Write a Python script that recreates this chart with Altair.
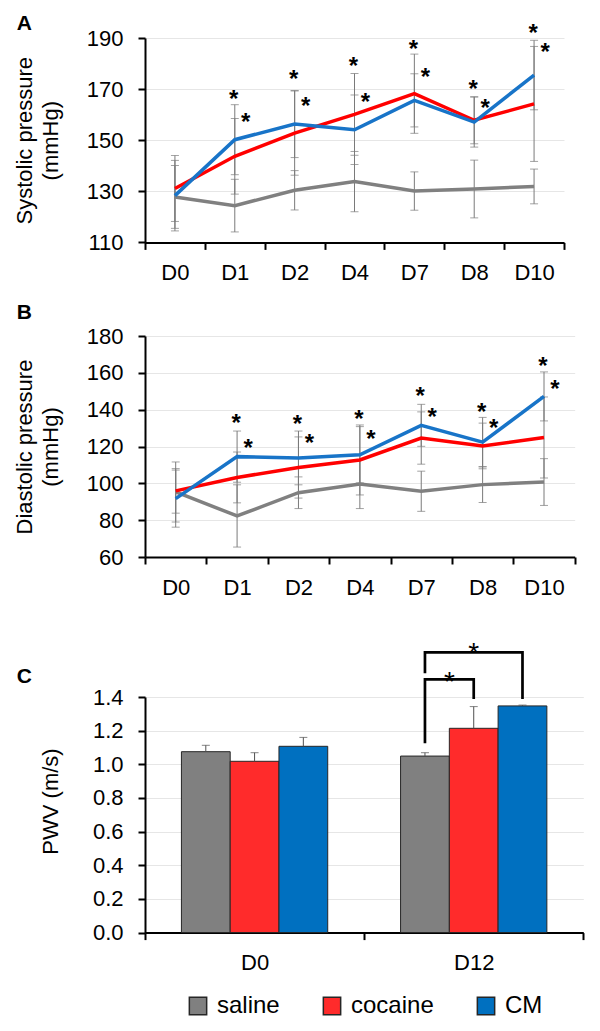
import altair as alt
import pandas as pd

FONT = "Liberation Sans"

# ---------------- data ----------------
days = ["D0", "D1", "D2", "D4", "D7", "D8", "D10"]
groups = ["saline", "cocaine", "CM"]
line_colors = ["#808080", "#FF0000", "#1874C8"]
bar_colors = ["#808080", "#FF2B2B", "#0070C0"]

# Panel A: systolic pressure (mmHg)
sys_saline = [127.8, 124.4, 130.4, 133.8, 130.1, 130.9, 131.9]
sys_cocaine = [131.1, 143.7, 152.8, 160.1, 168.2, 157.8, 164.2]
sys_cm = [128.3, 150.2, 156.3, 154.1, 165.6, 157.1, 175.5]
sys_saline_err = [12.3, 10.3, 7.7, 11.8, 7.5, 11.3, 6.8]
sys_cocaine_err = [12.9, 14.8, 16.5, 16.0, 15.5, 9.2, 22.5]
sys_cm_err = [13.8, 13.7, 13.1, 13.6, 10.4, 9.8, 13.6]

# Panel B: diastolic pressure (mmHg)
dia_saline = [95.3, 82.3, 94.9, 99.6, 95.7, 99.3, 100.7]
dia_cocaine = [95.9, 103.2, 108.6, 112.7, 124.6, 120.3, 124.9]
dia_cm = [91.7, 114.5, 113.8, 115.5, 131.5, 122.4, 147.2]
dia_saline_err = [16.3, 16.9, 8.6, 13.3, 10.9, 9.7, 12.7]
dia_cocaine_err = [12.1, 13.8, 16.6, 19.0, 14.2, 12.4, 22.0]
dia_cm_err = [15.5, 13.9, 14.6, 15.3, 11.4, 13.4, 13.3]

# significance asterisks (upper / lower, in axis units)
star_days = ["D1", "D2", "D4", "D7", "D8", "D10"]
sys_star_hi = [167.9, 175.9, 180.9, 187.8, 172.1, 193.9]
sys_star_lo = [159.0, 165.4, 166.8, 176.6, 164.7, 186.3]
dia_star_hi = [135.5, 134.7, 137.4, 149.9, 141.4, 166.4]
dia_star_lo = [121.9, 124.8, 126.6, 138.8, 133.0, 153.9]

# Panel C: PWV (m/s)
pwv_days = ["D0", "D12"]
pwv_saline = [1.075, 1.049]
pwv_cocaine = [1.018, 1.214]
pwv_cm = [1.107, 1.347]
pwv_saline_err = [0.038, 0.020]
pwv_cocaine_err = [0.051, 0.129]
pwv_cm_err = [0.053, 0.005]

# comparison brackets on D12 (group, y) in axis units
br_inner_groups = ["saline", "saline", "cocaine", "cocaine"]
br_inner_y = [1.125, 1.505, 1.505, 1.388]
br_outer_groups = ["saline", "saline", "CM", "CM"]
br_outer_y = [1.541, 1.665, 1.665, 1.388]
star_inner_y = 1.531
star_outer_y = 1.705

# ---------------- helpers ----------------
ERR = "#7A7A7A"


def long_df(vals, errs):
    rows = []
    for g, v, e in zip(groups, vals, errs):
        for d, vv, ee in zip(days, v, e):
            rows.append(dict(day=d, group=g, value=vv, lo=vv - ee, hi=vv + ee))
    return pd.DataFrame(rows)


def x_axis():
    return alt.Axis(title=None, labelFontSize=22, labelColor="black", labelAngle=0,
                    labelPadding=13, tickSize=7, tickWidth=2, tickColor="black",
                    domainColor="black", domainWidth=2, tickBand="extent", grid=False,
                    labelFont=FONT)


def y_axis(values, title, title_x, title_y=None, fmt=None):
    kw = dict(values=values, title=title, titleFontSize=22, titleFontWeight="normal",
              titleColor="black", titleX=title_x, titleLineHeight=26, titleFont=FONT,
              labelFontSize=22, labelColor="black", labelPadding=15, labelFont=FONT,
              labelOverlap=False,
              tickSize=7, tickWidth=2, tickColor="black", domainColor="black",
              domainWidth=2, grid=True, gridColor="#E6E6E6", gridWidth=1)
    if title_y is not None:
        kw["titleY"] = title_y
    if fmt is not None:
        kw["format"] = fmt
    return alt.Axis(**kw)


def letter_layer(letter, y):
    return alt.Chart(pd.DataFrame({"t": [letter]})).mark_text(
        fontSize=21, fontWeight="bold", align="left", baseline="alphabetic",
        color="black", font=FONT
    ).encode(text="t:N", x=alt.value(-128.3), y=alt.value(y))


def marker_layer(y):
    return alt.Chart(pd.DataFrame({"t": ["."]})).mark_text(
        fontSize=10, align="left", baseline="top", opacity=0
    ).encode(text="t:N", x=alt.value(-131.3), y=alt.value(y))


def line_panel(vals, errs, s_hi, s_lo, dom, ticks, title, letter, w, h, letter_y, top_y):
    df = long_df(vals, errs)
    xax = x_axis()
    yax = y_axis(ticks, title, -108.3)
    xscale = alt.Scale(type="band", paddingInner=0, paddingOuter=0)
    yscale = alt.Scale(domain=dom, nice=False, zero=False)

    def X():
        return alt.X("day:N", sort=days, scale=xscale, axis=xax, bandPosition=0.5)

    def Y(field):
        return alt.Y(field, type="quantitative", scale=yscale, axis=yax)

    base = alt.Chart(df)
    err = base.mark_rule(color=ERR, strokeWidth=1).encode(x=X(), y=Y("lo"), y2="hi:Q")
    caps = base.transform_fold(["lo", "hi"], as_=["k", "cap"]).mark_tick(
        color=ERR, size=8, thickness=1).encode(
        x=alt.X("day:N", sort=days, scale=xscale, axis=xax), y=Y("cap"))
    lines = [
        base.transform_filter(alt.datum.group == g).mark_line(
            color=c, strokeWidth=3.5).encode(x=X(), y=Y("value"))
        for g, c in zip(groups, line_colors)
    ]
    sdf = pd.DataFrame({"day": star_days, "hi": s_hi, "lo": s_lo})
    star_hi = alt.Chart(sdf).mark_text(text="*", fontSize=24, fontWeight="bold",
                                       baseline="alphabetic", dy=13, dx=-1,
                                       color="black", font=FONT).encode(x=X(), y=Y("hi"))
    star_lo = alt.Chart(sdf).mark_text(text="*", fontSize=24, fontWeight="bold",
                                       baseline="alphabetic", dy=13, dx=11,
                                       color="black", font=FONT).encode(x=X(), y=Y("lo"))
    return alt.layer(err, caps, *lines, star_hi, star_lo,
                     letter_layer(letter, letter_y), marker_layer(top_y)).properties(
        width=w, height=h)


chart_a = line_panel([sys_saline, sys_cocaine, sys_cm],
                     [sys_saline_err, sys_cocaine_err, sys_cm_err],
                     sys_star_hi, sys_star_lo, [110, 190], [110, 130, 150, 170, 190],
                     ["Systolic pressure", "(mmHg)"], "A", 419, 204.4, -7.8, -24.5)

chart_b = line_panel([dia_saline, dia_cocaine, dia_cm],
                     [dia_saline_err, dia_cocaine_err, dia_cm_err],
                     dia_star_hi, dia_star_lo, [60, 180], [60, 80, 100, 120, 140, 160, 180],
                     ["Diastolic pressure", "(mmHg)"], "B", 429.7, 221, -17.3, -33.6)

# ---------------- panel C ----------------
rows = []
for g, v, e in zip(groups, [pwv_saline, pwv_cocaine, pwv_cm],
                   [pwv_saline_err, pwv_cocaine_err, pwv_cm_err]):
    for d, vv, ee in zip(pwv_days, v, e):
        rows.append(dict(day=d, group=g, value=vv, hi=vv + ee))
pdf = pd.DataFrame(rows)

xax_c = x_axis()
yax_c = y_axis([0, 0.2, 0.4, 0.6, 0.8, 1.0, 1.2, 1.4], "PWV (m/s)", -83, 104, ".1f")
xscale_c = alt.Scale(type="band", paddingInner=0, paddingOuter=0)
yscale_c = alt.Scale(domain=[0, 1.4], nice=False, zero=True)


def XC():
    return alt.X("day:N", sort=pwv_days, scale=xscale_c, axis=xax_c)


def YC(field):
    return alt.Y(field, type="quantitative", scale=yscale_c, axis=yax_c)


xo = alt.XOffset("group:N", sort=groups,
                 scale=alt.Scale(domain=groups, paddingInner=0, paddingOuter=0.747))

bars = alt.Chart(pdf).mark_bar(stroke="#262626", strokeWidth=1).encode(
    x=XC(), xOffset=xo, y=YC("value"),
    color=alt.Color("group:N", sort=groups,
                    scale=alt.Scale(domain=groups, range=bar_colors),
                    legend=alt.Legend(orient="none", legendX=41, legendY=297,
                                      direction="horizontal", title=None,
                                      labelFontSize=24, labelFont=FONT, labelColor="black",
                                      symbolType="square", symbolSize=300,
                                      symbolStrokeColor="#262626", symbolStrokeWidth=1.5,
                                      symbolOpacity=1, columnPadding=40, labelOffset=7,
                                      padding=0)),
)
err_c = alt.Chart(pdf).mark_rule(color="#505050", strokeWidth=1).encode(
    x=XC(), xOffset=xo, y=YC("value"), y2="hi:Q")
cap_c = alt.Chart(pdf).mark_tick(color="#505050", size=8, thickness=1).encode(
    x=XC(), xOffset=xo, y=YC("hi"))

bdf = pd.DataFrame({
    "day": ["D12"] * 8,
    "group": br_inner_groups + br_outer_groups,
    "y": br_inner_y + br_outer_y,
    "b": ["inner"] * 4 + ["outer"] * 4,
    "o": [0, 1, 2, 3] * 2,
})
brackets = alt.Chart(bdf).mark_line(color="black", strokeWidth=2.7).encode(
    x=XC(), xOffset=xo, y=YC("y"), detail="b:N", order="o:Q")

sc_in = alt.Chart(pd.DataFrame({"day": ["D12"], "group": ["saline"], "y": [star_inner_y]})).mark_text(
    text="*", fontSize=28, baseline="alphabetic", dy=16, dx=24.4, color="black", font=FONT
).encode(x=XC(), xOffset=xo, y=YC("y"))
sc_out = alt.Chart(pd.DataFrame({"day": ["D12"], "group": ["cocaine"], "y": [star_outer_y]})).mark_text(
    text="*", fontSize=28, baseline="alphabetic", dy=16, color="black", font=FONT
).encode(x=XC(), xOffset=xo, y=YC("y"))

chart_c = alt.layer(bars, err_c, cap_c, brackets, sc_in, sc_out,
                    letter_layer("C", -14.2), marker_layer(-81.5)).properties(
    width=438.3, height=235.6)

chart = alt.vconcat(chart_a, chart_b, chart_c, spacing=17).resolve_scale(
    color="independent").resolve_legend(color="independent").configure(
    font=FONT).configure_view(stroke=None)

chart.save("out.html", embed_options={"renderer": "svg", "actions": False})
